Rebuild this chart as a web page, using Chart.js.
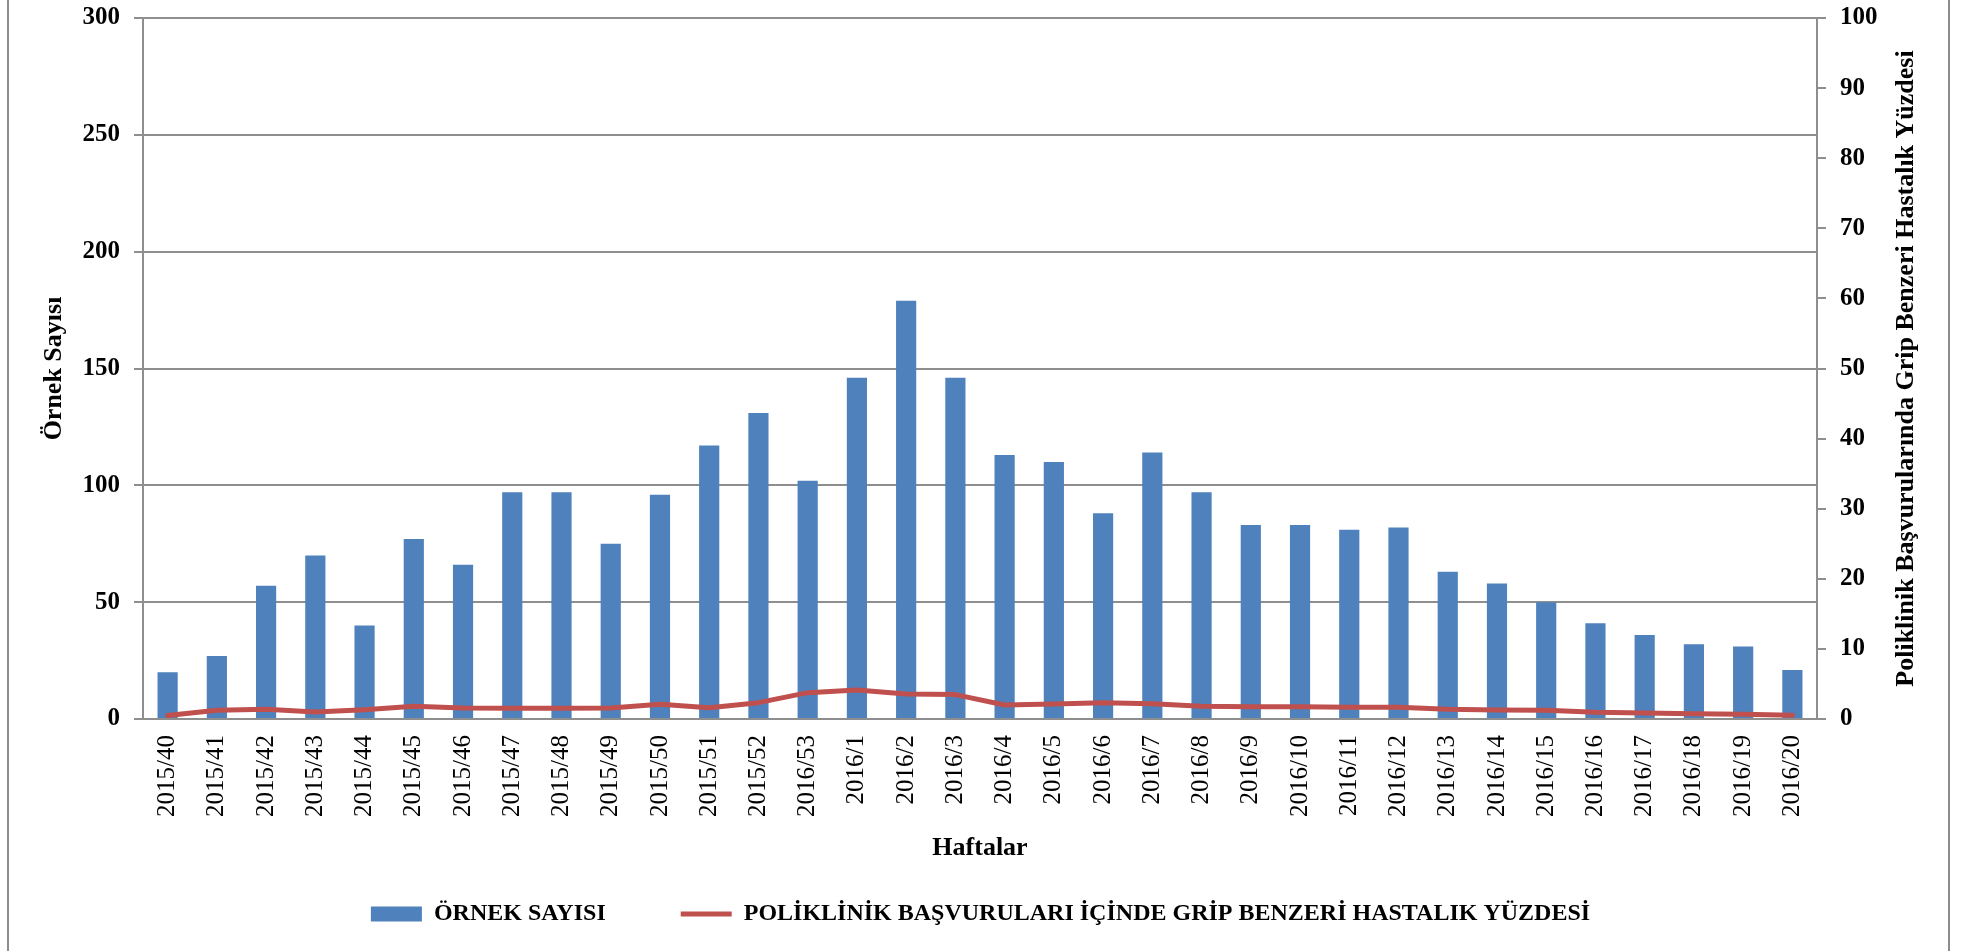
<!DOCTYPE html>
<html lang="tr">
<head>
<meta charset="utf-8">
<title>Örnek Sayısı ve Grip Benzeri Hastalık Yüzdesi</title>
<script src="https://cdn.jsdelivr.net/npm/chart.js@4.4.0/dist/chart.umd.min.js"></script>
<style>
html, body { margin: 0; padding: 0; background: #fff; overflow: hidden; }
#chart { display: block; }
</style>
</head>
<body>
<canvas id="chart" width="1961" height="951"></canvas>
<script>
// haftalar (x ekseni)
const weeks = ['2015/40','2015/41','2015/42','2015/43','2015/44','2015/45','2015/46','2015/47',
  '2015/48','2015/49','2015/50','2015/51','2015/52','2016/53','2016/1','2016/2','2016/3',
  '2016/4','2016/5','2016/6','2016/7','2016/8','2016/9','2016/10','2016/11','2016/12',
  '2016/13','2016/14','2016/15','2016/16','2016/17','2016/18','2016/19','2016/20'];

// örnek sayısı (sol eksen)
const sampleCounts = [20,27,57,70,40,77,66,97,97,75,96,117,131,102,146,179,146,
  113,110,88,114,97,83,83,81,82,63,58,50,41,36,32,31,21];

// GBH yüzdesi (sağ eksen)
const ilPercent = [0.5,1.24,1.38,1.0,1.33,1.81,1.57,1.52,1.52,1.57,2.1,1.62,2.33,3.76,
  4.14,3.57,3.48,2.0,2.14,2.33,2.19,1.81,1.76,1.76,1.67,1.67,1.38,1.29,1.24,0.95,0.86,
  0.76,0.67,0.52];

const leftMax = 300, leftStep = 50;
const rightMax = 100, rightStep = 10;

const barLabel = 'ÖRNEK SAYISI';
const lineLabel = 'POLİKLİNİK BAŞVURULARI İÇİNDE GRİP BENZERİ HASTALIK YÜZDESİ';
const leftTitle = 'Örnek Sayısı';
const rightTitle = 'Poliklinik Başvurularında Grip Benzeri Hastalık Yüzdesi';
const xTitle = 'Haftalar';

const gridGray = '#8e8e8e';
const serif = '"Liberation Serif", "Times New Roman", serif';
Chart.defaults.font.family = serif;
Chart.defaults.color = '#000';

// dış çerçeve (sol ve sağ kenar çizgileri)
const framePlugin = {
  id: 'frame',
  beforeDraw(chart) {
    const ctx = chart.ctx;
    ctx.save();
    ctx.strokeStyle = '#8c8c8c';
    ctx.lineWidth = 2;
    ctx.beginPath();
    ctx.moveTo(8, 0); ctx.lineTo(8, chart.height);
    ctx.moveTo(chart.width - 12, 0); ctx.lineTo(chart.width - 12, chart.height);
    ctx.stroke();
    ctx.restore();
  }
};

// sağ eksen başlığı aşağıdan yukarı okunuyor
const rightTitlePlugin = {
  id: 'rightTitle',
  afterDraw(chart) {
    const ctx = chart.ctx;
    const s = chart.scales.y1;
    ctx.save();
    ctx.translate(s.right - 55, (chart.chartArea.top + chart.chartArea.bottom) / 2);
    ctx.rotate(-Math.PI / 2);
    ctx.font = 'bold 26px ' + serif;
    ctx.fillStyle = '#000';
    ctx.textAlign = 'center';
    ctx.textBaseline = 'middle';
    ctx.fillText(rightTitle, 0, 0);
    ctx.restore();
  }
};

new Chart(document.getElementById('chart'), {
  data: {
    labels: weeks,
    datasets: [{
      type: 'bar',
      label: barLabel,
      data: sampleCounts,
      backgroundColor: '#4F81BD',
      borderWidth: 0,
      barPercentage: 0.41,
      categoryPercentage: 1,
      pointStyle: 'rect',
      yAxisID: 'y',
      order: 1
    }, {
      type: 'line',
      label: lineLabel,
      data: ilPercent,
      borderColor: '#C0504D',
      backgroundColor: '#C0504D',
      borderWidth: 5,
      borderCapStyle: 'round',
      borderJoinStyle: 'round',
      pointRadius: 0,
      pointStyle: 'line',
      tension: 0,
      yAxisID: 'y1',
      order: 0
    }]
  },
  options: {
    responsive: false,
    animation: false,
    layout: { padding: { top: 18, left: 0, right: 0, bottom: 15 } },
    plugins: {
      tooltip: { enabled: false },
      legend: {
        position: 'bottom',
        labels: {
          usePointStyle: true,
          pointStyleWidth: 51,
          boxHeight: 15,
          padding: 75,
          font: { size: 24, weight: 'bold' },
          color: '#000',
          sort: (a, b) => a.datasetIndex - b.datasetIndex
        }
      }
    },
    scales: {
      x: {
        grid: { display: false, drawTicks: false },
        border: { display: true, color: gridGray, width: 2 },
        ticks: { font: { size: 25 }, color: '#000', maxRotation: 90, minRotation: 90, padding: 16, autoSkip: false },
        title: { display: true, text: xTitle, font: { size: 26, weight: 'bold' }, color: '#000',
                 padding: { top: 0, bottom: -37 } },
        afterFit(scale) { scale.height = 108; }
      },
      y: {
        position: 'left',
        min: 0, max: leftMax,
        ticks: { stepSize: leftStep, font: { size: 25, weight: 'bold' }, color: '#000', padding: 14 },
        grid: { color: gridGray, lineWidth: 2, tickLength: 9 },
        border: { color: gridGray, width: 2 },
        title: { display: true, text: leftTitle, font: { size: 26, weight: 'bold' }, color: '#000',
                 padding: { top: 39, bottom: 0 } },
        afterFit(scale) { scale.width = 143; scale.paddingTop = 0; scale.paddingBottom = 0; }
      },
      y1: {
        position: 'right',
        min: 0, max: rightMax,
        ticks: { stepSize: rightStep, font: { size: 25, weight: 'bold' }, color: '#000', padding: 14 },
        grid: { drawOnChartArea: false, color: gridGray, lineWidth: 2, tickLength: 9 },
        border: { color: gridGray, width: 2 },
        afterFit(scale) { scale.width = 144; scale.paddingTop = 0; scale.paddingBottom = 0; }
      }
    }
  },
  plugins: [framePlugin, rightTitlePlugin]
});
</script>
</body>
</html>
